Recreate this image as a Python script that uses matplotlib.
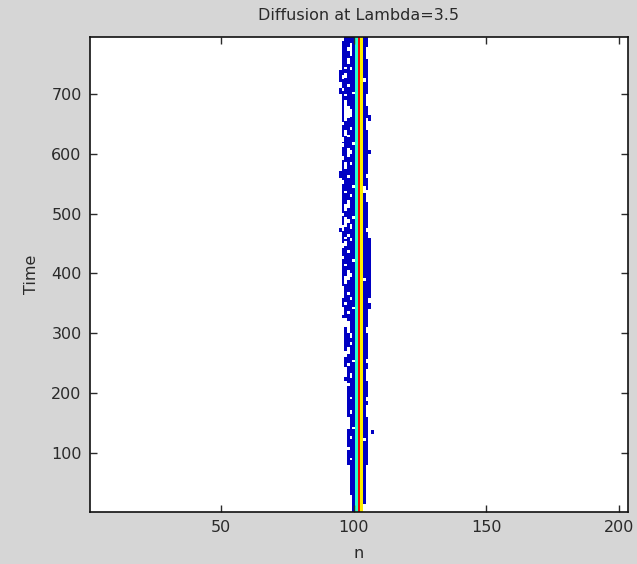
import numpy as np
import matplotlib
matplotlib.use("Agg")
import matplotlib.pyplot as plt

# ---- data ----
n_cols = 203          # lattice sites n = 1..203
t_rows = 795          # time steps 1..795
title = "Diffusion at Lambda=3.5"
xticks = [50, 100, 150, 200]
yticks = [100, 200, 300, 400, 500, 600, 700]

# centre profile (column -> value on jet scale 0..1)
core_cols = [101, 102, 103]
core_vals = [0.40, 0.90, 0.66]
spread_val = 0.06     # dark blue diffused region

# blue region edges, held from each knot time to the next
t_knots = [1, 15, 30, 45, 60, 80, 100, 120, 140, 160, 180, 200, 220, 240, 260, 280, 300,
           320, 340, 360, 380, 400, 420, 440, 460, 480, 500, 520, 540, 560, 580, 600, 620,
           640, 660, 680, 700, 720, 740, 760, 780]
left_col = [100, 100, 99, 99, 99, 98, 98, 98, 99, 98, 98, 98, 98, 97, 97, 97, 97,
            97, 96, 97, 96, 96, 96, 96, 96, 96, 96, 96, 96, 96, 96, 96, 96,
            96, 96, 96, 96, 95, 96, 96, 96]
right_col = [103, 104, 104, 104, 104, 105, 105, 105, 105, 104, 105, 105, 104, 105, 105, 105, 105,
             105, 105, 106, 106, 106, 106, 106, 105, 105, 105, 104, 105, 105, 105, 105, 105,
             105, 105, 104, 105, 105, 105, 104, 105]

# white holes inside the blue region: (column, t_start, t_end)
holes = [(98, 750, 760), (99, 765, 785), (98, 772, 778), (96, 725, 732), (97, 728, 735),
         (97, 655, 690), (98, 660, 680), (99, 662, 675), (96, 620, 628), (97, 630, 640),
         (97, 575, 585), (98, 595, 610), (99, 600, 606), (96, 612, 618),
         (97, 505, 515), (98, 510, 522), (96, 472, 480), (97, 478, 494), (98, 484, 490),
         (99, 475, 482), (96, 443, 450), (97, 447, 453), (97, 383, 395), (98, 390, 405),
         (99, 395, 400), (97, 310, 325), (96, 330, 343), (98, 300, 320), (99, 292, 300),
         (97, 260, 270), (98, 265, 276), (99, 225, 232), (99, 165, 170), (99, 123, 128),
         (105, 187, 192), (105, 640, 660), (104, 535, 545), (105, 300, 310),
         (96, 790, 795), (97, 742, 745), (99, 740, 744), (96, 705, 709), (98, 712, 716),
         (100, 700, 703), (97, 697, 700), (96, 648, 652), (99, 640, 644), (98, 628, 631),
         (100, 616, 619), (96, 590, 596), (99, 582, 585), (98, 560, 564), (96, 550, 555),
         (100, 544, 547), (97, 535, 538), (99, 528, 532), (96, 497, 500), (100, 492, 495),
         (98, 462, 466), (97, 458, 461), (99, 455, 459), (98, 434, 438), (96, 425, 429),
         (100, 420, 423), (97, 412, 415), (96, 372, 378), (98, 365, 369), (99, 356, 360),
         (97, 348, 352), (100, 340, 343), (98, 332, 336), (96, 286, 290), (99, 280, 284),
         (98, 246, 250), (97, 238, 242), (100, 252, 255), (98, 212, 216), (97, 200, 204),
         (99, 190, 193), (98, 150, 154), (100, 140, 143), (98, 104, 108), (99, 88, 91),
         (104, 720, 726), (105, 690, 695), (105, 560, 566), (105, 470, 475), (104, 388, 392),
         (105, 250, 256), (104, 120, 124)]
# extra blue pixels outside the main edges: (column, t_start, t_end)
bumps = [(106, 395, 405), (106, 340, 350), (107, 132, 138), (95, 700, 710), (95, 560, 570),
         (106, 655, 665), (106, 600, 606), (95, 470, 476), (96, 325, 330), (97, 220, 226)]

# ---- build the field ----
Z = np.full((t_rows, n_cols), np.nan)
for i, t0 in enumerate(t_knots):
    t1 = t_knots[i + 1] if i + 1 < len(t_knots) else t_rows + 1
    Z[t0 - 1:t1 - 1, left_col[i] - 1:right_col[i]] = spread_val
for c, a, b in bumps:
    Z[a - 1:b, c - 1] = spread_val
for c, a, b in holes:
    Z[a - 1:b, c - 1] = np.nan
for c, v in zip(core_cols, core_vals):
    Z[:, c - 1] = v

plt.rcParams['font.family'] = ['DejaVu Sans']
fig = plt.figure(figsize=(6.37, 5.64), dpi=100, facecolor='#d6d6d6')
ax = fig.add_axes([90 / 637, 52 / 564, 538 / 637, 475 / 564])
cmap = plt.get_cmap('jet').copy()
cmap.set_bad('white')
ax.imshow(np.ma.masked_invalid(Z), cmap=cmap, vmin=0, vmax=1, origin='lower',
          extent=[0.5, n_cols + 0.5, 0.5, t_rows + 0.5], aspect='auto',
          interpolation='nearest')
ax.set_xlim(0.5, n_cols + 0.5)
ax.set_ylim(0.5, t_rows + 0.5)
ax.set_xticks(xticks)
ax.set_yticks(yticks)
ax.tick_params(direction='in', top=True, right=True, length=5, width=1,
               labelsize=11.5, colors='#2a2a2a', pad=6)
for s in ax.spines.values():
    s.set_linewidth(1.2)
    s.set_color('#111111')
ax.set_title(title, fontsize=11.5, color='#2a2a2a', pad=12)
ax.set_xlabel('n', fontsize=11.5, color='#2a2a2a', labelpad=8)
ax.set_ylabel('Time', fontsize=11.5, color='#2a2a2a', labelpad=9)
fig.savefig('out.png', dpi=100, facecolor=fig.get_facecolor())
